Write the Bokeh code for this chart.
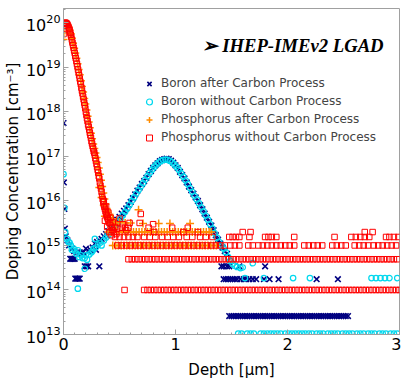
from bokeh.plotting import figure
from bokeh.models import Range1d, FixedTicker, SingleIntervalTicker, Label
from bokeh.embed import file_html
from bokeh.resources import INLINE

# ---------------- data (depth in um, concentration in cm^-3) ----------------
# Boron after Carbon Process
b_c_x = [0.0, 0.003, 0.008, 0.012, 0.02, 0.035, 0.05, 0.06, 0.07, 0.08, 0.09, 0.10,
         0.075, 0.095, 0.105, 0.115, 0.125, 0.135, 0.145, 0.12, 0.145, 0.16, 0.175,
         0.19, 0.205, 0.22, 0.32, 0.20, 0.22, 0.24, 0.26, 0.28, 0.29, 0.30, 0.32, 0.34,
         0.36, 0.38, 0.40, 0.42, 0.44, 0.46, 0.48, 0.50, 0.52, 0.54, 0.56, 0.58, 0.60,
         0.62, 0.64, 0.66, 0.68, 0.70, 0.72, 0.74, 0.76, 0.78, 0.80, 0.82, 0.84, 0.86,
         0.88, 0.90, 0.92, 0.94, 0.96, 0.98, 1.00, 1.02, 1.04, 1.06, 1.08, 1.10, 1.12,
         1.14, 1.16, 1.18, 1.20, 1.22, 1.24, 1.26, 1.28, 1.30, 1.32, 1.34, 1.36, 1.38,
         1.40, 1.42, 1.44, 1.46]
b_c_y = [5.6e17, 2.6e16, 6.6e15, 2.4e15, 1.6e15, 1.3e15, 1.0e15, 5.0e14, 5.0e14, 5.0e14, 5.0e14, 5.0e14,
         8.5e14, 7.5e14, 1.8e14, 1.8e14, 1.8e14, 1.8e14, 1.8e14, 7.0e14, 7.0e14, 6.5e14, 7.0e14,
         3.4e14, 3.4e14, 3.4e14, 3.4e14, 8.5e14, 7.5e14, 8.0e14, 9.0e14, 1.1e15, 8.0e14, 1.2e15, 1.3e15, 1.4e15,
         1.6e15, 1.8e15, 2.1e15, 2.5e15, 2.7e15, 3.2e15, 3.8e15, 4.4e15, 5.2e15, 6.0e15, 6.8e15, 8.0e15, 9.5e15,
         1.15e16, 1.4e16, 1.7e16, 2.0e16, 2.4e16, 2.8e16, 3.3e16, 4.0e16, 4.7e16, 5.5e16, 6.3e16, 7.0e16, 7.8e16,
         8.3e16, 8.7e16, 8.9e16, 8.7e16, 8.0e16, 7.2e16, 6.3e16, 5.5e16, 4.5e16, 3.8e16, 3.2e16, 2.6e16, 2.1e16,
         1.75e16, 1.45e16, 1.2e16, 1.0e16, 8.0e15, 6.5e15, 5.2e15, 4.2e15, 3.4e15, 2.8e15, 2.2e15, 1.7e15, 1.35e15,
         1.1e15, 9.0e14, 7.5e14, 6.5e14]
b_c_tail_3p4e14_x = [1.41, 1.43, 1.46, 1.48, 1.57, 1.80]
b_c_tail_1p75e14_x = [1.43, 1.45, 1.47, 1.49, 1.51, 1.53, 1.55, 1.58, 1.61, 1.63, 1.66, 1.69, 1.72,
                      1.79, 1.84, 1.92, 2.26, 2.45]
b_c_floor_2p6e13_x = [1.48, 1.50, 1.52, 1.54, 1.56, 1.58, 1.60, 1.62, 1.64, 1.66, 1.68, 1.70, 1.72, 1.74,
                      1.76, 1.78, 1.80, 1.82, 1.84, 1.86, 1.88, 1.90, 1.92, 1.94, 1.96, 1.98, 2.00, 2.02,
                      2.04, 2.06, 2.08, 2.10, 2.12, 2.14, 2.16, 2.18, 2.20, 2.22, 2.24, 2.26, 2.28, 2.30,
                      2.32, 2.34, 2.36, 2.38, 2.40, 2.42, 2.44, 2.46, 2.48, 2.50, 2.52, 2.54]

# Boron without Carbon Process
b_nc_x = [0.0, 0.008, 0.015, 0.03, 0.045, 0.055, 0.065, 0.075, 0.09, 0.105, 0.115, 0.128, 0.14, 0.158,
          0.17, 0.19, 0.20, 0.21, 0.23, 0.25, 0.26, 0.27, 0.28, 0.29, 0.31, 0.33, 0.34, 0.36, 0.38,
          0.40, 0.42, 0.45, 0.47, 0.49, 0.51, 0.53, 0.55, 0.57, 0.59, 0.61, 0.63, 0.65, 0.67, 0.69,
          0.71, 0.73, 0.75, 0.77, 0.79, 0.81, 0.83, 0.85, 0.87, 0.89, 0.91, 0.93, 0.95, 0.97, 0.99,
          1.01, 1.03, 1.05, 1.07, 1.09, 1.11, 1.13, 1.15, 1.17, 1.19, 1.21, 1.23, 1.25, 1.27, 1.29,
          1.31, 1.33, 1.35, 1.37, 1.39, 1.41, 1.43, 1.45, 1.47, 1.49, 1.51, 1.53, 1.55, 1.58, 1.60,
          1.69, 0.128, 0.19]
b_nc_y = [4.0e16, 7.0e15, 2.0e15, 1.4e15, 1.2e15, 1.15e15, 1.0e15, 8.0e14, 8.5e14, 7.5e14, 6.5e14, 7.8e14, 5.5e14, 6.0e14,
          5.2e14, 5.2e14, 6.0e14, 4.8e14, 6.3e14, 7.0e14, 7.6e14, 8.5e14, 1.4e15, 9.0e14, 1.05e15, 1.15e15, 1.0e15, 1.3e15, 1.5e15,
          1.7e15, 2.0e15, 2.3e15, 2.9e15, 3.4e15, 4.0e15, 4.8e15, 5.7e15, 6.8e15, 8.2e15, 1.0e16, 1.2e16, 1.45e16, 1.75e16, 2.1e16,
          2.5e16, 3.0e16, 3.6e16, 4.3e16, 5.0e16, 5.8e16, 6.6e16, 7.3e16, 7.9e16, 8.3e16, 8.5e16, 8.4e16, 8.0e16, 7.4e16, 6.6e16,
          5.8e16, 5.0e16, 4.2e16, 3.5e16, 2.9e16, 2.4e16, 1.95e16, 1.6e16, 1.3e16, 1.08e16, 8.8e15, 7.2e15, 5.8e15, 4.7e15, 3.8e15,
          3.0e15, 2.4e15, 1.9e15, 1.5e15, 1.2e15, 1.0e15, 8.5e14, 7.0e14, 5.5e14, 4.5e14, 3.9e14, 3.5e14, 3.3e14, 3.1e14, 3.2e14,
          4.0e14, 1.07e14, 3.0e14]
b_nc_tail_1p85e14_x = [1.62, 1.79, 2.05, 2.20, 2.75, 2.79, 2.83, 2.87, 2.91, 2.98]
b_nc_floor_1p05e13_x = [1.56, 1.59, 1.64, 1.67, 1.70, 1.76, 1.79, 1.82, 1.85, 1.88, 1.91, 1.94, 1.98, 2.01,
                        2.04, 2.07, 2.10, 2.13, 2.16, 2.19, 2.22, 2.26, 2.29, 2.32, 2.36, 2.39, 2.42, 2.45,
                        2.49, 2.52, 2.55, 2.58, 2.62, 2.65, 2.68, 2.72, 2.75, 2.78, 2.82, 2.85, 2.88, 2.92,
                        2.95, 2.98]

# Phosphorus after Carbon Process
p_c_x = [0.0, 0.003, 0.008, 0.015, 0.025, 0.035, 0.045, 0.055, 0.065, 0.075, 0.085, 0.095, 0.105,
         0.115, 0.125, 0.135, 0.145, 0.155, 0.165, 0.175, 0.185, 0.195, 0.205, 0.215, 0.225, 0.235,
         0.245, 0.255, 0.265, 0.275, 0.285, 0.295, 0.305, 0.315, 0.325, 0.335, 0.345, 0.355, 0.365,
         0.375, 0.385, 0.395, 0.405, 0.415, 0.43, 0.45,
         0.32, 0.34, 0.36, 0.37, 0.39, 0.41, 0.42, 0.44, 0.47, 0.50, 0.55, 0.60, 0.67, 0.71, 0.85,
         0.95, 1.13]
p_c_y = [4.2e19, 6.0e19, 8.5e19, 9.5e19, 9.6e19, 9.0e19, 8.0e19, 6.9e19, 5.7e19, 4.5e19, 3.5e19, 2.7e19, 2.1e19,
         1.6e19, 1.2e19, 9.0e18, 6.8e18, 5.0e18, 3.7e18, 2.8e18, 2.0e18, 1.5e18, 1.1e18, 8.0e17, 5.9e17, 4.4e17,
         3.3e17, 2.5e17, 1.9e17, 1.5e17, 1.2e17, 9.5e16, 7.3e16, 5.5e16, 4.0e16, 2.9e16, 2.1e16, 1.5e16, 1.1e16,
         8.5e15, 6.8e15, 5.6e15, 4.7e15, 4.1e15, 3.6e15, 3.2e15,
         2.0e16, 1.2e16, 8.0e15, 4.5e15, 6.0e15, 5.0e15, 3.2e15, 4.0e15, 3.0e15, 3.3e15, 3.2e15, 3.2e15, 6.3e15, 3.1e15, 3.1e15,
         3.1e15, 3.1e15]
p_c_row_2e15_x = [0.40, 0.425, 0.45, 0.475, 0.50, 0.525, 0.55, 0.575, 0.60, 0.625, 0.65, 0.675, 0.70,
                  0.725, 0.75, 0.775, 0.80, 0.825, 0.85, 0.875, 0.90, 0.925, 0.95, 0.975, 1.00, 1.025,
                  1.05, 1.075, 1.10, 1.125, 1.15, 1.175, 1.20, 1.225, 1.25, 1.275, 1.30, 1.32]
p_c_row_1e15_x = [0.44, 0.465, 0.49, 0.515, 0.54, 0.565, 0.59, 0.615, 0.64, 0.665, 0.69, 0.715, 0.74,
                  0.765, 0.79, 0.815, 0.84, 0.865, 0.89, 0.915, 0.94, 0.965, 0.99, 1.015, 1.04, 1.065,
                  1.09, 1.115, 1.14, 1.165, 1.19, 1.215, 1.24, 1.265, 1.29, 1.315, 1.34, 1.365]

# Phosphorus without Carbon Process
p_nc_x = [0.0, 0.005, 0.01, 0.015, 0.02, 0.025, 0.03, 0.035, 0.04, 0.045, 0.05, 0.055, 0.06, 0.065,
          0.07, 0.075, 0.08, 0.085, 0.09, 0.095, 0.10, 0.105, 0.11, 0.115, 0.12, 0.125, 0.13, 0.135,
          0.14, 0.145, 0.15, 0.155, 0.16, 0.165, 0.17, 0.175, 0.18, 0.185, 0.19, 0.195, 0.20, 0.205,
          0.21, 0.215, 0.22, 0.225, 0.23, 0.235, 0.24, 0.245, 0.25, 0.255, 0.26, 0.265, 0.27, 0.275,
          0.28, 0.285, 0.29, 0.295, 0.30, 0.305, 0.31, 0.315, 0.32, 0.325, 0.33, 0.335, 0.34, 0.345,
          0.35, 0.355, 0.36, 0.365, 0.37, 0.375, 0.38, 0.385, 0.39, 0.395, 0.40, 0.41, 0.42, 0.43,
          0.44, 0.45,
          0.36, 0.37, 0.38, 0.39, 0.40, 0.41, 0.42, 0.43, 0.44, 0.46, 0.47, 0.48, 0.50, 0.53, 0.56,
          0.52, 0.55, 0.58, 0.59, 0.68, 0.69, 0.76, 0.80, 0.97, 1.11]
p_nc_y = [5.6e19, 8.9e19, 1.0e20, 1.0e20, 1.0e20, 9.8e19, 9.5e19, 9.1e19, 8.5e19, 7.9e19, 7.4e19, 6.8e19, 6.0e19, 5.4e19,
          4.8e19, 4.2e19, 3.6e19, 3.2e19, 2.75e19, 2.4e19, 2.1e19, 1.8e19, 1.6e19, 1.4e19, 1.2e19, 1.05e19, 8.9e18, 7.6e18,
          6.6e18, 5.6e18, 4.8e18, 4.2e18, 3.5e18, 3.0e18, 2.6e18, 2.2e18, 1.9e18, 1.6e18, 1.4e18, 1.2e18, 1.0e18, 8.5e17,
          7.2e17, 6.2e17, 5.2e17, 4.6e17, 4.0e17, 3.4e17, 3.0e17, 2.6e17, 2.2e17, 1.95e17, 1.7e17, 1.5e17, 1.3e17, 1.2e17,
          1.05e17, 9.1e16, 7.9e16, 6.8e16, 5.8e16, 5.0e16, 4.3e16, 3.6e16, 3.2e16, 2.6e16, 2.2e16, 1.9e16, 1.6e16, 1.3e16,
          1.1e16, 9.5e15, 8.3e15, 7.4e15, 6.6e15, 5.9e15, 5.2e15, 4.8e15, 4.4e15, 4.0e15, 3.7e15, 3.2e15, 2.8e15, 2.5e15,
          2.2e15, 2.0e15,
          1.0e16, 3.6e15, 7.5e15, 2.6e15, 5.5e15, 2.0e15, 4.2e15, 1.7e15, 3.3e15, 2.6e15, 1.8e15, 2.4e15, 4.0e15, 3.0e15, 2.2e15,
          2.5e15, 2.5e15, 2.5e15, 3.2e15, 3.2e15, 5.1e15, 2.5e15, 3.0e15, 2.5e15, 2.5e15]
p_nc_row_2e15_x = [0.81, 1.07, 1.20, 1.60, 1.67, 2.69, 2.76]
p_nc_row_1p55e15_x = [0.46, 0.50, 0.54, 0.58, 0.62, 0.66, 0.72, 0.77, 0.82, 0.88, 0.93, 0.98, 1.03, 1.10,
                      1.15, 1.22, 1.27, 1.33, 1.48, 1.51, 1.54, 1.57, 1.66, 1.80, 1.83, 1.86, 1.90, 2.06,
                      2.42, 2.57, 2.61, 2.65, 2.69, 2.73, 2.88, 2.91, 2.95, 2.99]
p_nc_row_1e15_x = [0.48, 0.52, 0.56, 0.60, 0.64, 0.68, 0.72, 0.76, 0.80, 0.84, 0.88, 0.92, 0.96, 1.00,
                   1.04, 1.08, 1.12, 1.16, 1.20, 1.24, 1.28, 1.32, 1.36, 1.40, 1.44, 1.49, 1.53, 1.57,
                   1.65, 1.69, 1.74, 1.78, 1.82, 1.86, 1.90, 1.94, 1.98, 2.02, 2.06, 2.15, 2.19, 2.23,
                   2.27, 2.31, 2.40, 2.44, 2.48, 2.52, 2.60, 2.64, 2.68, 2.72, 2.77, 2.81, 2.85, 2.89,
                   2.93, 2.97]
p_nc_row_5e14_x = [0.58, 0.61, 0.64, 0.67, 0.70, 0.73, 0.76, 0.79, 0.82, 0.85, 0.88, 0.91, 0.94, 0.97,
                   1.00, 1.03, 1.06, 1.09, 1.12, 1.15, 1.18, 1.21, 1.24, 1.27, 1.30, 1.33, 1.36, 1.39,
                   1.42, 1.45, 1.48, 1.51, 1.54, 1.57, 1.60, 1.63, 1.66, 1.69, 1.72, 1.75, 1.78, 1.81,
                   1.84, 1.87, 1.90, 1.93, 1.96, 1.99, 2.02, 2.05, 2.08, 2.11, 2.14, 2.17, 2.20, 2.23,
                   2.26, 2.29, 2.32, 2.35, 2.38, 2.41, 2.44, 2.47, 2.50, 2.53, 2.56, 2.59, 2.62, 2.65,
                   2.68, 2.71, 2.74, 2.77, 2.80, 2.83, 2.86, 2.89, 2.92, 2.95, 2.98]
p_nc_row_1e14_x = [0.545, 0.72, 0.75, 0.78, 0.81, 0.84, 0.87, 0.90, 0.93, 0.96, 0.99, 1.02, 1.05, 1.08,
                   1.11, 1.14, 1.17, 1.20, 1.23, 1.26, 1.29, 1.32, 1.35, 1.38, 1.41, 1.44, 1.47, 1.50,
                   1.53, 1.56, 1.59, 1.62, 1.65, 1.68, 1.71, 1.74, 1.77, 1.80, 1.83, 1.86, 1.89, 1.92,
                   1.95, 1.98, 2.01, 2.04, 2.07, 2.10, 2.13, 2.16, 2.19, 2.22, 2.25, 2.28, 2.31, 2.34,
                   2.37, 2.40, 2.43, 2.46, 2.49, 2.52, 2.55, 2.58, 2.61, 2.64, 2.67, 2.70, 2.73, 2.76,
                   2.79, 2.82, 2.85, 2.88, 2.91, 2.94, 2.97, 3.00]

labels = ["Boron after Carbon Process", "Boron without Carbon Process",
          "Phosphorus after Carbon Process", "Phosphorus without Carbon Process"]
y_ticks = [1e13, 1e14, 1e15, 1e16, 1e17, 1e18, 1e19, 1e20]

# ---------------- assemble series ----------------
def with_rows(xs, ys, rows):
    xx, yy = list(xs), list(ys)
    for rx, level in rows:
        xx += rx
        yy += [level] * len(rx)
    return xx, yy

bcx, bcy = with_rows(b_c_x, b_c_y, [(b_c_tail_3p4e14_x, 3.4e14), (b_c_tail_1p75e14_x, 1.75e14),
                                     (b_c_floor_2p6e13_x, 2.6e13)])
bnx, bny = with_rows(b_nc_x, b_nc_y, [(b_nc_tail_1p85e14_x, 1.85e14), (b_nc_floor_1p05e13_x, 1.05e13)])
pcx, pcy = with_rows(p_c_x, p_c_y, [(p_c_row_2e15_x, 2.0e15), (p_c_row_1e15_x, 1.0e15)])
pnx, pny = with_rows(p_nc_x, p_nc_y, [(p_nc_row_2e15_x, 2.0e15), (p_nc_row_1p55e15_x, 1.55e15),
                                       (p_nc_row_1e15_x, 1.0e15), (p_nc_row_5e14_x, 4.9e14),
                                       (p_nc_row_1e14_x, 1.0e14)])

# ---------------- figure ----------------
p = figure(frame_width=336, frame_height=326, x_range=Range1d(0, 3), y_range=Range1d(1e13, 2.1e20),
           y_axis_type="log", output_backend="svg", toolbar_location=None,
           min_border_left=0, min_border_right=2, min_border_top=8, min_border_bottom=0)
p.xgrid.visible = False
p.ygrid.visible = False
p.outline_line_color = "#a0a0a0"
p.background_fill_color = "white"

p.scatter(bcx, bcy, marker="x", size=8, line_color="#000080", line_width=1.6, legend_label=labels[0])
p.scatter(bnx, bny, marker="circle", size=5.5, line_color="#00d8ee", fill_color=None, line_width=1.2,
          legend_label=labels[1])
p.scatter(pcx, pcy, marker="cross", size=8, line_color="#ff8c00", line_width=1.5, legend_label=labels[2])
p.scatter(pnx, pny, marker="square", size=5.5, line_color="#ff0000", fill_color=None, line_width=1,
          legend_label=labels[3])

p.xaxis.ticker = SingleIntervalTicker(interval=1, num_minor_ticks=10)
p.yaxis.ticker = FixedTicker(ticks=y_ticks,
                             minor_ticks=[m * t for t in y_ticks for m in range(2, 10)])
for ax in (p.xaxis[0], p.yaxis[0]):
    ax.axis_line_color = "#a0a0a0"
    ax.major_tick_line_color = "#a0a0a0"
    ax.minor_tick_line_color = "#a0a0a0"
    ax.major_tick_in = 5
    ax.major_tick_out = 0
    ax.minor_tick_in = 2
    ax.minor_tick_out = 0
    ax.major_label_text_font = "DejaVu Sans"
    ax.major_label_text_font_size = "16px"
    ax.major_label_text_color = "black"
    ax.major_label_standoff = 3
    ax.axis_label_text_font = "DejaVu Sans"
    ax.axis_label_text_font_size = "15px"
    ax.axis_label_text_font_style = "normal"
    ax.axis_label_text_color = "black"
p.xaxis.axis_label = "Depth [μm]"
p.yaxis.axis_label = "Doping Concentration [cm⁻³]"
p.xaxis.axis_label_standoff = 8
p.yaxis.axis_label_standoff = 1

lg = p.legend[0]
lg.location = (76, 188)
lg.padding = 0
lg.margin = 0
lg.spacing = 0
lg.border_line_color = None
lg.background_fill_alpha = 0
lg.label_text_font = "DejaVu Sans"
lg.label_text_font_size = "12px"
lg.glyph_width = 20
lg.glyph_height = 15
lg.label_height = 18
lg.label_standoff = 2

p.add_layout(Label(x=138, y=289, x_units="screen", y_units="screen", text="➢ IHEP-IMEv2 LGAD",
                   text_font="Liberation Serif", text_font_style="bold italic",
                   text_font_size="18.7px", text_baseline="alphabetic", text_color="black"))

open("out.html", "w").write(file_html(p, INLINE))
